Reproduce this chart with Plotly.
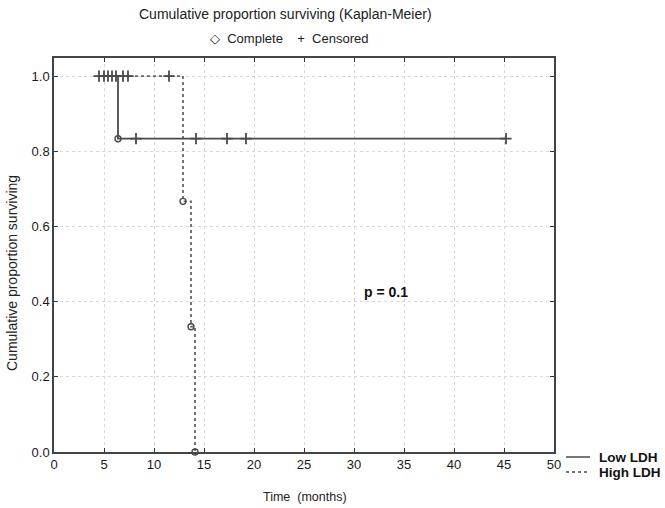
import plotly.graph_objects as go

# ---- data ----
low_times = [6.4, 8.2, 14.2, 17.3, 19.2, 45.2]
low_events = [1, 0, 0, 0, 0, 0]          # 1 = complete, 0 = censored
high_times = [4.5, 5.0, 5.4, 5.8, 6.2, 6.9, 7.4, 11.5, 12.9, 13.7, 14.1]
high_events = [0, 0, 0, 0, 0, 0, 0, 0, 1, 1, 1]
x_ticks = [0, 5, 10, 15, 20, 25, 30, 35, 40, 45, 50]
y_ticks = [0.0, 0.2, 0.4, 0.6, 0.8, 1.0]
p_text = "p = 0.1"
p_pos = (33.2, 0.425)


def km(times, events, start):
    pairs = sorted(zip(times, events))
    n = len(pairs)
    s = 1.0
    xs, ys = [start], [1.0]
    comp_x, comp_y, cen_x, cen_y = [], [], [], []
    at_risk = n
    for t, e in pairs:
        if e:
            xs += [t, t]
            ys += [s, s * (at_risk - 1) / at_risk]
            s = s * (at_risk - 1) / at_risk
            comp_x.append(t); comp_y.append(s)
        else:
            xs.append(t); ys.append(s)
            cen_x.append(t); cen_y.append(s)
        at_risk -= 1
    return xs, ys, comp_x, comp_y, cen_x, cen_y


start = min(low_times + high_times)
line_col = "#4a4a4a"
fig = go.Figure()
for times, events, dash in [(high_times, high_events, "dot"), (low_times, low_events, "solid")]:
    xs, ys, cx, cy, kx, ky = km(times, events, start)
    fig.add_trace(go.Scatter(x=xs, y=ys, mode="lines",
                             line=dict(color=line_col if dash == "solid" else "#666",
                                       width=1.8, dash=dash),
                             showlegend=False, cliponaxis=False))
    fig.add_trace(go.Scatter(x=kx, y=ky, mode="markers",
                             marker=dict(symbol="cross-thin-open", size=8, color=line_col,
                                         line=dict(color=line_col, width=1.8)),
                             showlegend=False, cliponaxis=False))
    fig.add_trace(go.Scatter(x=cx, y=cy, mode="markers",
                             marker=dict(symbol="circle-open", size=6, color=line_col,
                                         line=dict(color=line_col, width=1.4)),
                             showlegend=False, cliponaxis=False))

W, H = 665, 508
pw, ph = 500, 394
L, T = 54, 58
R, B = W - L - pw, H - T - ph


def px(x):
    return (x - L) / pw


def py(y):
    return (T + ph - y) / ph


font = "Arial, Liberation Sans, sans-serif"
fig.update_layout(
    width=W, height=H, margin=dict(l=L, r=R, t=T, b=B),
    paper_bgcolor="white", plot_bgcolor="white",
    font=dict(family=font, size=12, color="#222"),
    xaxis=dict(range=[0, 50], tickvals=x_ticks, ticks="inside", ticklen=4, tickcolor="#333",
               showline=True, linecolor="#444", linewidth=1.5, mirror="ticks",
               showgrid=True, gridcolor="#d8d8d8", griddash="dot", gridwidth=1, zeroline=False,
               tickfont=dict(size=13, color="#1a1a1a")),
    yaxis=dict(range=[0, 1.048], tickvals=y_ticks, tickformat=".1f", ticks="inside", ticklen=4, tickcolor="#333",
               showline=True, linecolor="#444", linewidth=1.5, mirror="ticks",
               showgrid=True, gridcolor="#d8d8d8", griddash="dot", gridwidth=1, zeroline=False,
               tickfont=dict(size=13, color="#1a1a1a")),
)

ann = [
    dict(text="Cumulative proportion surviving (Kaplan-Meier)", x=px(285), y=py(14), size=14),
    dict(text="◇  Complete    +  Censored", x=px(289), y=py(38), size=13),
    dict(text="Time  (months)", x=px(305), y=py(497), size=12.5),
]
for a in ann:
    fig.add_annotation(text=a["text"], x=a["x"], y=a["y"], xref="paper", yref="paper", showarrow=False,
                       font=dict(size=a["size"], color="#222"), xanchor="center", yanchor="middle")
fig.add_annotation(text="Cumulative proportion surviving", x=px(16), y=py(273), xref="paper", yref="paper",
                   showarrow=False, textangle=-90, xanchor="center", font=dict(size=14, color="#222"),
                   xshift=-4)
fig.add_annotation(text="<b>" + p_text + "</b>", x=p_pos[0], y=p_pos[1], xref="x", yref="y", showarrow=False,
                   font=dict(size=14, color="#111"))

# right legend
for label, ypx, dash in [("Low LDH", 457, "solid"), ("High LDH", 472, "dot")]:
    fig.add_shape(type="line", xref="paper", yref="paper", x0=px(566), x1=px(590), y0=py(ypx), y1=py(ypx),
                  line=dict(color=line_col, width=1.5, dash=dash))
    fig.add_annotation(text="<b>" + label + "</b>", x=px(597), y=py(ypx), xref="paper", yref="paper",
                       showarrow=False, xanchor="left", yanchor="middle", font=dict(size=13.5, color="#111"))

fig.write_html("out.html", config={"displayModeBar": False},
               post_script="document.body.style.margin='0';document.body.style.overflow='hidden';")
